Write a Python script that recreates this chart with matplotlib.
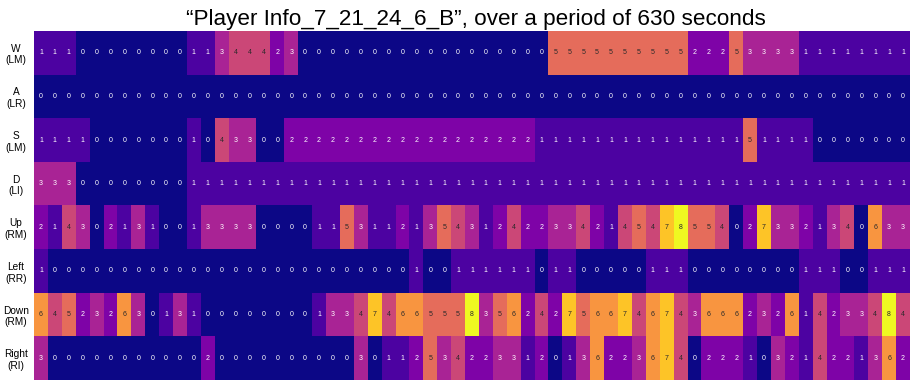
import matplotlib.pyplot as plt
import numpy as np

plt.rcParams['font.family'] = ['Liberation Sans', 'DejaVu Sans']

title = "\u201cPlayer Info_7_21_24_6_B\u201d, over a period of 630 seconds"

row_labels = ["W\n(LM)", "A\n(LR)", "S\n(LM)", "D\n(LI)",
              "Up\n(RM)", "Left\n(RR)", "Down\n(RM)", "Right\n(RI)"]

w_keys = [1, 1, 1, 0, 0, 0, 0, 0, 0, 0, 0, 1, 1, 3, 4, 4, 4, 2, 3, 0,
          0, 0, 0, 0, 0, 0, 0, 0, 0, 0, 0, 0, 0, 0, 0, 0, 0, 5, 5, 5,
          5, 5, 5, 5, 5, 5, 5, 2, 2, 2, 5, 3, 3, 3, 3, 1, 1, 1, 1, 1,
          1, 1, 1]
a_keys = [0] * 63
s_keys = [1, 1, 1, 1, 0, 0, 0, 0, 0, 0, 0, 1, 0, 4, 3, 3, 0, 0, 2, 2,
          2, 2, 2, 2, 2, 2, 2, 2, 2, 2, 2, 2, 2, 2, 2, 2, 1, 1, 1, 1,
          1, 1, 1, 1, 1, 1, 1, 1, 1, 1, 1, 5, 1, 1, 1, 1, 0, 0, 0, 0,
          0, 0, 0]
d_keys = [3, 3, 3, 0, 0, 0, 0, 0, 0, 0, 0, 1, 1, 1, 1, 1, 1, 1, 1, 1,
          1, 1, 1, 1, 1, 1, 1, 1, 1, 1, 1, 1, 1, 1, 1, 1, 1, 1, 1, 1,
          1, 1, 1, 1, 1, 1, 1, 1, 1, 1, 1, 1, 1, 1, 1, 1, 1, 1, 1, 1,
          1, 1, 1]
up_keys = [2, 1, 4, 3, 0, 2, 1, 3, 1, 0, 0, 1, 3, 3, 3, 3, 0, 0, 0, 0,
           1, 1, 5, 3, 1, 1, 2, 1, 3, 5, 4, 3, 1, 2, 4, 2, 2, 3, 3, 4,
           2, 1, 4, 5, 4, 7, 8, 5, 5, 4, 0, 2, 7, 3, 3, 2, 1, 3, 4, 0,
           6, 3, 3]
left_keys = [1, 0, 0, 0, 0, 0, 0, 0, 0, 0, 0, 0, 0, 0, 0, 0, 0, 0, 0, 0,
             0, 0, 0, 0, 0, 0, 0, 1, 0, 0, 1, 1, 1, 1, 1, 1, 0, 1, 1, 0,
             0, 0, 0, 0, 1, 1, 1, 0, 0, 0, 0, 0, 0, 0, 0, 1, 1, 1, 0, 0,
             1, 1, 1]
down_keys = [6, 4, 5, 2, 3, 2, 6, 3, 0, 1, 3, 1, 0, 0, 0, 0, 0, 0, 0, 0,
             1, 3, 3, 4, 7, 4, 6, 6, 5, 5, 5, 8, 3, 5, 6, 2, 4, 2, 7, 5,
             6, 6, 7, 4, 6, 7, 4, 3, 6, 6, 6, 2, 3, 2, 6, 1, 4, 2, 3, 3,
             4, 8, 4]
right_keys = [3, 0, 0, 0, 0, 0, 0, 0, 0, 0, 0, 0, 2, 0, 0, 0, 0, 0, 0, 0,
              0, 0, 0, 3, 0, 1, 1, 2, 5, 3, 4, 2, 2, 3, 3, 1, 2, 0, 1, 3,
              6, 2, 2, 3, 6, 7, 4, 0, 2, 2, 2, 1, 0, 3, 2, 1, 4, 2, 2, 1,
              3, 6, 2]


def main():
    data = np.array([w_keys, a_keys, s_keys, d_keys,
                     up_keys, left_keys, down_keys, right_keys])

    fig = plt.figure(figsize=(9.12, 3.82), dpi=100)
    ax = fig.add_axes([34 / 912, 2 / 382, 876 / 912, 349 / 382])
    ax.imshow(data, cmap='plasma', vmin=0, vmax=8, aspect='auto',
              interpolation='nearest')

    # light digits on dark cells, dark digits from 4 upwards
    for i in range(data.shape[0]):
        for j in range(data.shape[1]):
            v = data[i, j]
            col = '#2a2a2a' if v >= 4 else 'white'
            ax.text(j, i, str(v), ha='center', va='center',
                    fontsize=5, color=col)

    ax.set_yticks(range(len(row_labels)))
    ax.set_yticklabels(row_labels, fontsize=7.3, ha='center')
    ax.tick_params(axis='y', length=0, pad=13)
    ax.set_xticks([])
    for s in ax.spines.values():
        s.set_visible(False)

    fig.text(476 / 912, 1 - 24.5 / 382, title, ha='center', va='baseline',
             fontsize=16.2)

    fig.savefig("out.png", dpi=100)


if __name__ == '__main__':
    main()
